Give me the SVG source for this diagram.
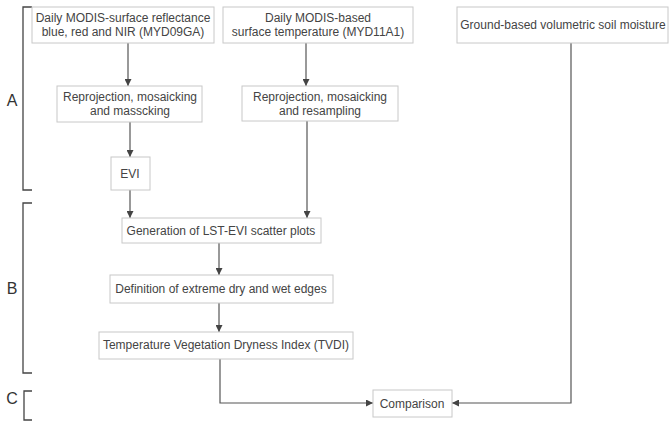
<svg xmlns="http://www.w3.org/2000/svg" width="670" height="423" viewBox="0 0 670 423">
<defs>
<style>
.box{fill:#fff;stroke:#c8c8c8;stroke-width:1}
.t{font-family:"Liberation Sans",Arial,sans-serif;font-size:12px;fill:#444;text-anchor:middle}
.lbl{font-family:"Liberation Sans",Arial,sans-serif;font-size:16px;fill:#333;text-anchor:middle}
.ln{fill:none;stroke:#555;stroke-width:1.2}
.br{fill:none;stroke:#444;stroke-width:1.3}
</style>
<marker id="ah" viewBox="0 0 10 10" refX="10" refY="5" markerWidth="7" markerHeight="7" orient="auto" markerUnits="userSpaceOnUse">
<path d="M0,0 L10,5 L0,10 z" fill="#444"/>
</marker>
</defs>
<rect width="670" height="423" fill="#fff"/>
<g id="brackets">
<path class="br" d="M32,7 H23 V190 H32"/>
<text class="lbl" x="12" y="106">A</text>
<path class="br" d="M32,203 H23 V373 H32"/>
<text class="lbl" x="12" y="294">B</text>
<path class="br" d="M32,391 H24 V420 H32"/>
<text class="lbl" x="12" y="404">C</text>
</g>
<g id="connectors">
<path class="ln" d="M128,43 V86" marker-end="url(#ah)"/>
<path class="ln" d="M306,43 V86" marker-end="url(#ah)"/>
<path class="ln" d="M130,122 V157" marker-end="url(#ah)"/>
<path class="ln" d="M130,190 V218" marker-end="url(#ah)"/>
<path class="ln" d="M307,121 V218" marker-end="url(#ah)"/>
<path class="ln" d="M219,243 V275" marker-end="url(#ah)"/>
<path class="ln" d="M219,303 V332" marker-end="url(#ah)"/>
<path class="ln" d="M220,359 V403 H373" marker-end="url(#ah)"/>
<path class="ln" d="M571,43 V403 H452" marker-end="url(#ah)"/>
</g>
<g id="n1"><rect class="box" x="32" y="7" width="182" height="36"/>
<text class="t" x="123" y="22">Daily MODIS-surface reflectance</text>
<text class="t" x="123" y="36">blue, red and NIR (MYD09GA)</text></g>
<g id="n2"><rect class="box" x="223" y="7" width="190" height="36"/>
<text class="t" x="318" y="22">Daily MODIS-based</text>
<text class="t" x="318" y="36">surface temperature (MYD11A1)</text></g>
<g id="n3"><rect class="box" x="457" y="7" width="211" height="36"/>
<text class="t" x="563" y="29">Ground-based volumetric soil moisture</text></g>
<g id="n4"><rect class="box" x="57" y="86" width="145" height="36"/>
<text class="t" x="130" y="101">Reprojection, mosaicking</text>
<text class="t" x="130" y="115">and masscking</text></g>
<g id="n5"><rect class="box" x="242" y="86" width="156" height="35"/>
<text class="t" x="320" y="101">Reprojection, mosaicking</text>
<text class="t" x="320" y="115">and resampling</text></g>
<g id="n6"><rect class="box" x="111" y="157" width="39" height="33"/>
<text class="t" x="130" y="178">EVI</text></g>
<g id="n7"><rect class="box" x="122" y="218" width="199" height="25"/>
<text class="t" x="221" y="235">Generation of LST-EVI scatter plots</text></g>
<g id="n8"><rect class="box" x="110" y="275" width="223" height="28"/>
<text class="t" x="221" y="293">Definition of extreme dry and wet edges</text></g>
<g id="n9"><rect class="box" x="99" y="332" width="254" height="27"/>
<text class="t" x="226" y="349">Temperature Vegetation Dryness Index (TVDI)</text></g>
<g id="n10"><rect class="box" x="373" y="390" width="79" height="27"/>
<text class="t" x="412" y="408">Comparison</text></g>
</svg>
